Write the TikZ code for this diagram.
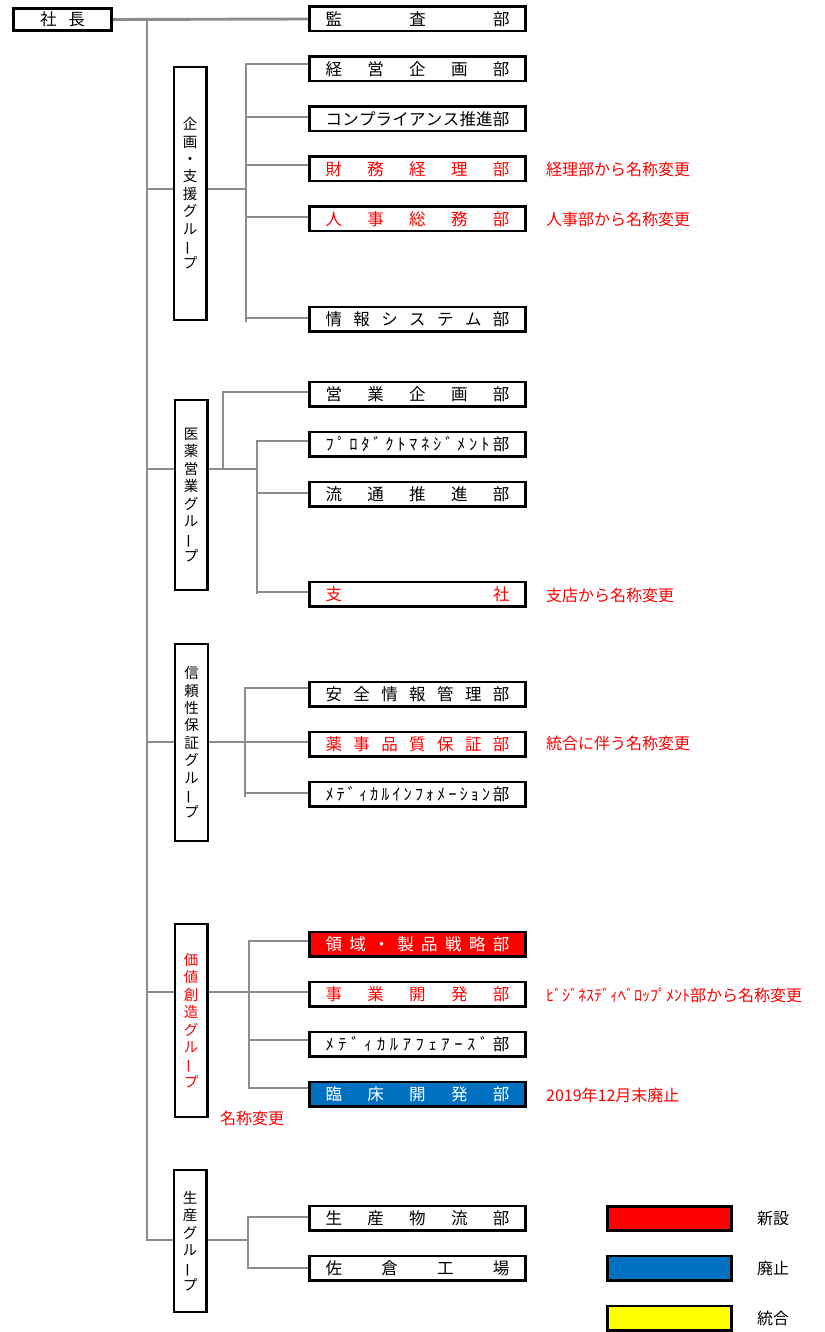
\documentclass[tikz,border=0pt]{standalone}
\usepackage{fontspec}
\setmainfont{Noto Sans CJK JP}
\usetikzlibrary{backgrounds}
\definecolor{linegray}{RGB}{140,140,140}
\definecolor{xred}{RGB}{255,0,0}
\definecolor{xblue}{RGB}{0,112,192}
\definecolor{xyellow}{RGB}{255,255,0}
\makeatletter
\newcommand\distrib[2]{\hbox to #1{\let\dist@sep\relax\@tfor\dist@c:=#2\do{\dist@sep\dist@c\let\dist@sep\hfill}}}
\makeatother
\newcommand\vbar{\rotatebox[origin=c]{90}{ー}}
\tikzset{
  dept/.style={draw=black, line width=2.6pt, minimum width=216.4pt, minimum height=24.4pt,
    inner sep=0pt, fill=white, font=\fontsize{16.5}{16.5}\selectfont},
  chief/.style={draw=black, line width=2.6pt, minimum width=98.4pt, minimum height=22.4pt,
    inner sep=0pt, fill=white, font=\fontsize{16.5}{16.5}\selectfont},
  grp/.style={draw=black, line width=2.4pt, minimum width=32.6pt, inner sep=0pt, fill=white,
    align=center, font=\fontsize{14.5}{17.4}\selectfont},
  conn/.style={draw=linegray, line width=2.9pt, line cap=rect},
  note/.style={anchor=west, text=xred, inner sep=0pt, font=\fontsize{16}{16}\selectfont},
  legendbox/.style={draw=black, line width=2.6pt, minimum width=124.4pt, minimum height=24.4pt, inner sep=0pt},
  leglabel/.style={anchor=west, inner sep=0pt, font=\fontsize{16}{16}\selectfont},
}
\begin{document}
\begin{tikzpicture}[x=1pt, y=-1pt]
\useasboundingbox (0,0) rectangle (824,1332);

% top
\node[chief] (shacho) at (62.5,19.5) {社\hspace{12pt}長};

% departments
\node[dept] (kansa)   at (417.5,19)   {\distrib{184pt}{監査部}};
\node[dept] (kei)     at (417.5,69)   {\distrib{184pt}{経営企画部}};
\node[dept] (comp)    at (417.5,119)  {\distrib{184pt}{コンプライアンス推進部}};
\node[dept, text=xred] (zai) at (417.5,169) {\distrib{184pt}{財務経理部}};
\node[dept, text=xred] (jin) at (417.5,219) {\distrib{184pt}{人事総務部}};
\node[dept] (jou)     at (417.5,319)  {\distrib{184pt}{情報システム部}};
\node[dept] (eigyo)   at (417.5,394)  {\distrib{184pt}{営業企画部}};
\node[dept] (prod)    at (417.5,444)  {\distrib{184pt}{ﾌﾟﾛﾀﾞｸﾄﾏﾈｼﾞﾒﾝﾄ部}};
\node[dept] (ryu)     at (417.5,494)  {\distrib{184pt}{流通推進部}};
\node[dept, text=xred] (shi) at (417.5,594) {\distrib{184pt}{支社}};
\node[dept] (anzen)   at (417.5,694)  {\distrib{184pt}{安全情報管理部}};
\node[dept, text=xred] (yakuji) at (417.5,744) {\distrib{184pt}{薬事品質保証部}};
\node[dept] (medinfo) at (417.5,794)  {\distrib{184pt}{ﾒﾃﾞｨｶﾙｲﾝﾌｫﾒｰｼｮﾝ部}};
\node[dept, fill=xred, text=white] (ryo) at (417.5,944) {\distrib{184pt}{領域・製品戦略部}};
\node[dept, text=xred] (jigyo) at (417.5,994) {\distrib{184pt}{事業開発部}};
\node[dept] (medaff)  at (417.5,1044) {\distrib{184pt}{ﾒﾃﾞｨｶﾙｱﾌｪｱｰｽﾞ部}};
\node[dept, fill=xblue, text=white] (rinsho) at (417.5,1094) {\distrib{184pt}{臨床開発部}};
\node[dept] (seisan)  at (417.5,1218) {\distrib{184pt}{生産物流部}};
\node[dept] (sakura)  at (417.5,1268) {\distrib{184pt}{佐倉工場}};

% groups
\node[grp, minimum height=252.6pt] (g1) at (190,193.5) {企\\画\\・\\支\\援\\グ\\ル\\\vbar\\プ};
\node[grp, minimum height=189.6pt] (g2) at (191,495) {医\\薬\\営\\業\\グ\\ル\\\vbar\\プ};
\node[grp, minimum height=196.6pt] (g3) at (191.5,742.5) {信\\頼\\性\\保\\証\\グ\\ル\\\vbar\\プ};
\node[grp, minimum height=192.6pt, text=xred] (g4) at (191,1020.5) {価\\値\\創\\造\\グ\\ル\\\vbar\\プ};
\node[grp, minimum height=141.6pt] (g5) at (190,1241) {生\\産\\グ\\ル\\\vbar\\プ};

% notes
\node[note] (n1) at (546,169)  {経理部から名称変更};
\node[note] (n2) at (546,219)  {人事部から名称変更};
\node[note] (n3) at (546,595)  {支店から名称変更};
\node[note] (n4) at (546,743)  {統合に伴う名称変更};
\node[note] (n5) at (546,995)  {ﾋﾞｼﾞﾈｽﾃﾞｨﾍﾞﾛｯﾌﾟﾒﾝﾄ部から名称変更};
\node[note] (n6) at (546,1095) {2019年12月末廃止};
\node[note] (n7) at (220,1118) {名称変更};

% legend
\node[legendbox, fill=xred]    (l1) at (669.5,1218.5) {};
\node[legendbox, fill=xblue]   (l2) at (669.5,1268) {};
\node[legendbox, fill=xyellow] (l3) at (669.5,1318) {};
\node[leglabel] (t1) at (757,1218.5) {新設};
\node[leglabel] (t2) at (757,1268) {廃止};
\node[leglabel] (t3) at (757,1318) {統合};

% connectors
\coordinate (top) at (147,19);
\coordinate (h1) at (147,189);
\coordinate (h2) at (147,469);
\coordinate (h3) at (147,742);
\coordinate (h4) at (147,992);
\coordinate (h5) at (147,1240);
\coordinate (b1) at (246,189);  \coordinate (b1t) at (246,64);   \coordinate (b1b) at (246,321);
\coordinate (b2) at (257,469);  \coordinate (b2t) at (257,441);  \coordinate (b2b) at (257,593);
\coordinate (e2) at (223,469);  \coordinate (e2t) at (223,392);
\coordinate (b3) at (245,742);  \coordinate (b3t) at (245,688);  \coordinate (b3b) at (245,796);
\coordinate (b4) at (249,992);  \coordinate (b4t) at (249,941);  \coordinate (b4b) at (249,1088);
\coordinate (b5) at (248,1240); \coordinate (b5t) at (248,1217); \coordinate (b5b) at (248,1268);

\begin{scope}[on background layer]
\fill[white] (0,0) rectangle (824,1332);
\draw[conn] (shacho.east) -- (kansa.west);
\draw[conn] (top) -- (h5) -- (h5 -| g5.west);
\foreach \h/\g in {h1/g1,h2/g2,h3/g3,h4/g4} \draw[conn] (\h) -- (\h -| \g.west);
\foreach \b/\g in {b1/g1,b2/g2,b3/g3,b4/g4,b5/g5} \draw[conn] (\b -| \g.east) -- (\b);
\foreach \b in {b1,b2,b3,b4,b5} \draw[conn] (\b t) -- (\b b);
\draw[conn] (e2) -- (e2t) -- (e2t -| eigyo.west);
\foreach \n/\y in {kei/64,comp/117,zai/165,jin/217,jou/318} {
  \coordinate (p) at (246,\y); \draw[conn] (p) -- (p -| \n.west);}
\foreach \n/\y in {prod/441,ryu/493,shi/592} {
  \coordinate (p) at (257,\y); \draw[conn] (p) -- (p -| \n.west);}
\foreach \n/\y in {anzen/688,yakuji/742,medinfo/793} {
  \coordinate (p) at (245,\y); \draw[conn] (p) -- (p -| \n.west);}
\foreach \n/\y in {ryo/941,jigyo/992,medaff/1040,rinsho/1088} {
  \coordinate (p) at (249,\y); \draw[conn] (p) -- (p -| \n.west);}
\foreach \n/\y in {seisan/1217,sakura/1268} {
  \coordinate (p) at (248,\y); \draw[conn] (p) -- (p -| \n.west);}
\end{scope}
\end{tikzpicture}
\end{document}
